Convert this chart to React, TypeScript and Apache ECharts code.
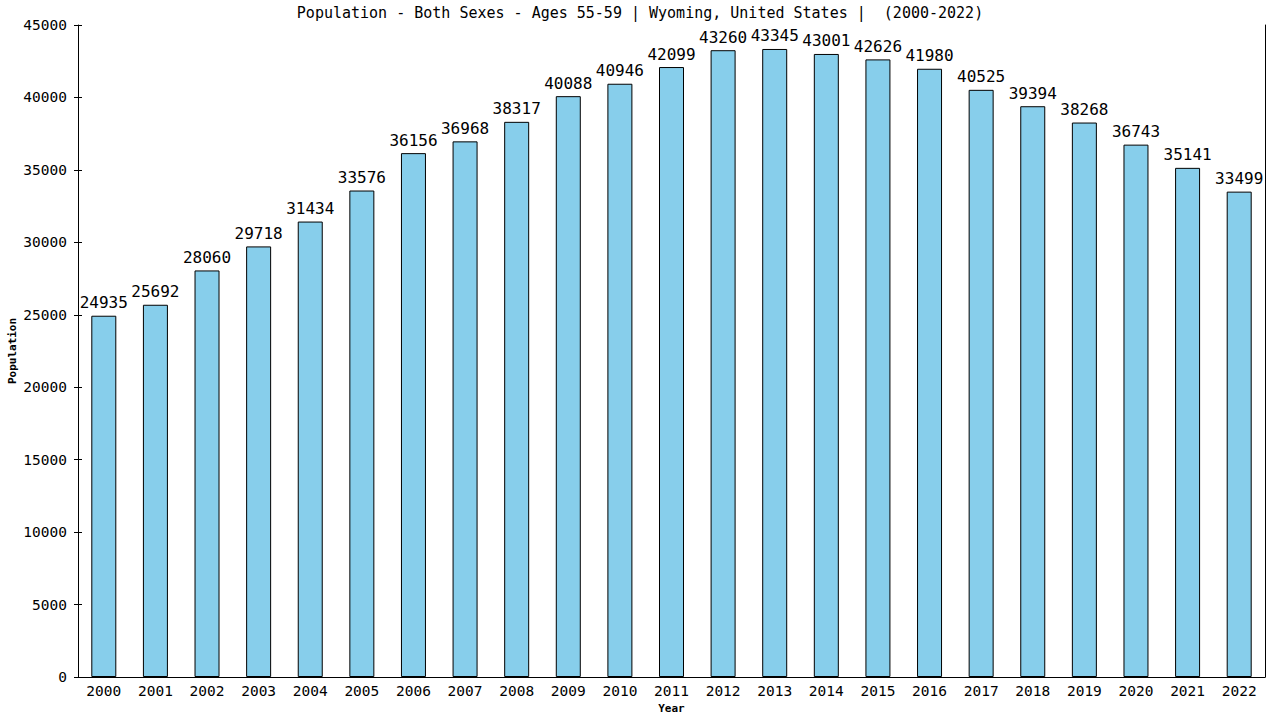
import React, { useEffect, useRef } from "react";
import * as echarts from "echarts";

const years = ["2000","2001","2002","2003","2004","2005","2006","2007","2008","2009","2010","2011","2012","2013","2014","2015","2016","2017","2018","2019","2020","2021","2022"];
const population = [24935,25692,28060,29718,31434,33576,36156,36968,38317,40088,40946,42099,43260,43345,43001,42626,41980,40525,39394,38268,36743,35141,33499];
const titleText = "Population - Both Sexes - Ages 55-59 | Wyoming, United States |  (2000-2022)";

const FONT = "'DejaVu Sans Mono', monospace";

export default function App() {
  const ref = useRef<HTMLDivElement>(null);
  useEffect(() => {
    const chart = echarts.init(ref.current!, null, { renderer: "svg" });
    chart.setOption({
      animation: false,
      backgroundColor: "#ffffff",
      title: {
        text: titleText,
        left: "center",
        top: 0,
        textStyle: { fontFamily: FONT, fontSize: 15, fontWeight: "normal", color: "#000" },
      },
      grid: { left: 78, right: 15, top: 25, bottom: 43, containLabel: false, outerBoundsMode: "none" },
      xAxis: {
        type: "category",
        data: years,
        name: "Year",
        nameLocation: "middle",
        nameGap: 26,
        nameMoveOverlap: false,
        nameTextStyle: { fontFamily: FONT, fontSize: 11, fontWeight: "bold", color: "#000" },
        axisLine: { lineStyle: { color: "#000", width: 1 } },
        axisTick: { show: false },
        axisLabel: { fontFamily: FONT, fontSize: 14.5, color: "#000", margin: 6 },
      },
      yAxis: [
        {
          type: "value",
          min: 0,
          max: 45000,
          interval: 5000,
          name: "Population",
          nameLocation: "middle",
          nameGap: 60,
          nameMoveOverlap: false,
          nameTextStyle: { fontFamily: FONT, fontSize: 11, fontWeight: "bold", color: "#000" },
          axisLine: { show: true, lineStyle: { color: "#000", width: 1 } },
          axisTick: { show: true, length: 4, lineStyle: { color: "#000" } },
          axisLabel: { fontFamily: FONT, fontSize: 14.5, color: "#000", margin: 11, formatter: (v: number) => String(v) },
          splitLine: { show: false },
        },
        {
          type: "value",
          min: 0,
          max: 45000,
          interval: 5000,
          position: "left",
          offset: 0,
          axisLine: { show: false },
          axisTick: { show: true, inside: true, length: 4, lineStyle: { color: "#000" } },
          axisLabel: { show: false },
          splitLine: { show: false },
        },
        {
          type: "value",
          min: 0,
          max: 45000,
          interval: 5000,
          position: "right",
          offset: 0,
          axisLine: { show: true, lineStyle: { color: "#000", width: 1 } },
          axisTick: { show: false },
          axisLabel: { show: false },
          splitLine: { show: false },
        },
      ],
      series: [
        {
          type: "bar",
          data: population,
          barWidth: 25,
          itemStyle: { color: "#87ceeb", borderColor: "#000", borderWidth: 1 },
          label: {
            show: true,
            position: "top",
            distance: 5,
            fontFamily: FONT,
            fontSize: 16,
            color: "#000",
          },
        },
      ],
    });
    return () => chart.dispose();
  }, []);
  return <div ref={ref} style={{ width: 1280, height: 720, position: "absolute", left: 0, top: 0 }} />;
}
